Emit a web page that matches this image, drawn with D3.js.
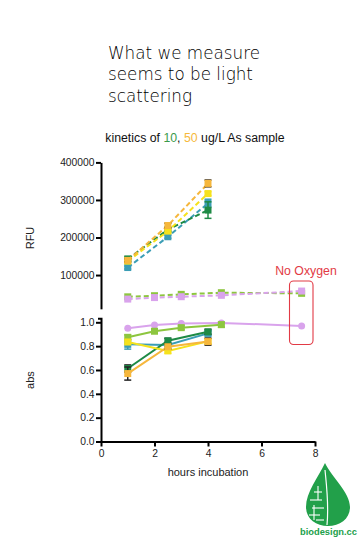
<!DOCTYPE html>
<html><head><meta charset="utf-8">
<script src="https://cdn.jsdelivr.net/npm/d3@7"></script>
<style>
html,body{margin:0;padding:0;background:#fff;}
svg{display:block;}
</style></head>
<body>
<svg id="c" width="359" height="538"></svg>
<script>
// ---------- data ----------
const xTicks = [0, 2, 4, 6, 8];
const rfuTicks = [100000, 200000, 300000, 400000];
const absTicks = [0.0, 0.2, 0.4, 0.6, 0.8, 1.0];

const xSample = [1, 2.5, 4];
const xControl = [1, 2, 3, 4.5, 7.5];
const xLime = [1, 2, 3, 4.5];

const rfuDarkGreen = [143000, 221000, 273000];
const rfuDarkGreenErr = [5000, 5000, 22000];
const rfuTeal = [120000, 202000, 291000];
const rfuTealErr = [4000, 4000, 11000];
const rfuYellow = [137000, 217000, 317000];
const rfuYellowErr = [4000, 4000, 5000];
const rfuOrange = [139000, 232000, 344000];
const rfuOrangeErr = [4000, 6000, 9000];
const rfuLime = [42000, 45000, 48600, 53000, 51300];
const rfuPink = [36000, 40000, 42300, 46000, 57400];

const absDarkGreen = [0.612, 0.845, 0.92];
const absDarkGreenErr = [0.03, 0.02, 0.02];
const absTeal = [0.815, 0.81, 0.907];
const absTealErr = [0.04, 0.01, 0.02];
const absYellow = [0.835, 0.76, 0.84];
const absYellowErr = [0.02, 0.02, 0.02];
const absOrange = [0.57, 0.795, 0.838];
const absOrangeErr = [0.055, 0.02, 0.03];
const absLime = [0.874, 0.925, 0.955, 0.98];
const absLimeErr = [0.02, 0.015, 0.015, 0.02];
const absPink = [0.95, 0.977, 0.99, 0.995, 0.97];

const colors = {
  darkGreen: "#1e8a45", teal: "#3a9db5", yellow: "#f5e21c",
  orange: "#f6b73c", lime: "#8dc63f", pink: "#d9a3ec", red: "#e23a45"
};

// ---------- setup ----------
const svg = d3.select("#c");
const FONT = "'Liberation Sans', Arial, sans-serif";

const x = d3.scaleLinear().domain([0, 8]).range([101, 315]);
const yTop = d3.scaleLinear().domain([0, 400000]).range([312.6, 162.4]);
const yBot = d3.scaleLinear().domain([0, 1]).range([441.5, 322.3]);

// ---------- titles ----------
const title = svg.append("text").attr("x", 108).attr("y", 58.5)
  .attr("font-family", "'DejaVu Sans', sans-serif").attr("font-size", 16.8)
  .attr("font-weight", 300).attr("fill", "#000");
["What we measure", "seems to be light", "scattering"].forEach((t, i) => {
  title.append("tspan").attr("x", 108).attr("dy", i === 0 ? 0 : 21.7).text(t);
});

const sub = svg.append("text").attr("x", 195).attr("y", 141.5)
  .attr("text-anchor", "middle").attr("font-family", FONT).attr("font-size", 12.3).attr("fill", "#111");
sub.append("tspan").text("kinetics of ");
sub.append("tspan").attr("fill", "#3a9a4a").text("10");
sub.append("tspan").text(", ");
sub.append("tspan").attr("fill", "#f6b93b").text("50");
sub.append("tspan").text(" ug/L As sample");

// ---------- axes ----------
function styleAxis(g) {
  g.selectAll("path.domain").attr("stroke", "#000").attr("stroke-width", 2);
  g.selectAll(".tick line").attr("stroke", "#000").attr("stroke-width", 2);
  g.selectAll(".tick text").attr("font-family", FONT).attr("font-size", 10.3).attr("fill", "#222");
}

// top y-axis (broken segment)
const yTopAxisScale = d3.scaleLinear().domain([10000, 400000]).range([yTop(10000), yTop(400000)]);
const gTop = svg.append("g").attr("transform", "translate(101,0)")
  .call(d3.axisLeft(yTopAxisScale).tickValues(rfuTicks).tickFormat(d3.format("d")).tickSize(5).tickSizeOuter(0).tickPadding(1.5));
styleAxis(gTop);

// bottom y-axis
const yBotAxisScale = d3.scaleLinear().domain([0, 1.035]).range([yBot(0), yBot(1.035)]);
const gBot = svg.append("g").attr("transform", "translate(101,0)")
  .call(d3.axisLeft(yBotAxisScale).tickValues(absTicks).tickFormat(d3.format(".1f")).tickSize(5).tickSizeOuter(3).tickPadding(1.5));
styleAxis(gBot);

// x axis
const gX = svg.append("g").attr("transform", "translate(0,441.5)")
  .call(d3.axisBottom(x).tickValues(xTicks).tickFormat(d3.format("d")).tickSize(5).tickSizeOuter(0).tickPadding(3));
styleAxis(gX);

// axis titles
svg.append("text").attr("transform", "translate(34,238) rotate(-90)").attr("text-anchor", "middle")
  .attr("font-family", FONT).attr("font-size", 11).attr("fill", "#222").text("RFU");
svg.append("text").attr("transform", "translate(34,380) rotate(-90)").attr("text-anchor", "middle")
  .attr("font-family", FONT).attr("font-size", 11).attr("fill", "#222").text("abs");
svg.append("text").attr("x", 208).attr("y", 476).attr("text-anchor", "middle")
  .attr("font-family", FONT).attr("font-size", 11).attr("fill", "#222").text("hours incubation");

// ---------- series drawing ----------
function zip(xs, ys, es) { return xs.map((xv, i) => ({ x: xv, y: ys[i], e: es ? es[i] : 0 })); }

function drawSeries(data, yS, color, opts) {
  const g = svg.append("g");
  const line = d3.line().x(d => x(d.x)).y(d => yS(d.y));
  g.append("path").datum(data).attr("d", line).attr("fill", "none")
    .attr("stroke", color).attr("stroke-width", 2)
    .attr("stroke-dasharray", opts.dashed ? "5,3" : null);
  const ec = opts.errColor || color;
  data.filter(d => d.e > 0).forEach(d => {
    const cx = x(d.x), y1 = yS(d.y - d.e), y2 = yS(d.y + d.e);
    g.append("line").attr("x1", cx).attr("x2", cx).attr("y1", y1).attr("y2", y2).attr("stroke", ec).attr("stroke-width", 1.5);
    [y1, y2].forEach(yy => g.append("line").attr("x1", cx - 3.5).attr("x2", cx + 3.5).attr("y1", yy).attr("y2", yy)
      .attr("stroke", ec).attr("stroke-width", 1.5));
  });
  if (opts.shape === "circle") {
    g.selectAll("circle").data(data).join("circle").attr("cx", d => x(d.x)).attr("cy", d => yS(d.y))
      .attr("r", 3.5).attr("fill", color);
  } else {
    g.selectAll("rect").data(data).join("rect").attr("x", d => x(d.x) - 3.5).attr("y", d => yS(d.y) - 3.5)
      .attr("width", 7).attr("height", 7).attr("fill", color);
  }
}

// top panel (RFU) dashed
drawSeries(zip(xControl, rfuLime), yTop, colors.lime, { dashed: true });
drawSeries(zip(xControl, rfuPink), yTop, colors.pink, { dashed: true });
drawSeries(zip(xSample, rfuTeal, rfuTealErr), yTop, colors.teal, { dashed: true });
drawSeries(zip(xSample, rfuDarkGreen, rfuDarkGreenErr), yTop, colors.darkGreen, { dashed: true });
drawSeries(zip(xSample, rfuYellow, rfuYellowErr), yTop, colors.yellow, { dashed: true });
drawSeries(zip(xSample, rfuOrange, rfuOrangeErr), yTop, colors.orange, { dashed: true, errColor: "#3a2a10" });

// bottom panel (abs) solid
drawSeries(zip(xControl, absPink), yBot, colors.pink, { shape: "circle" });
drawSeries(zip(xLime, absLime, absLimeErr), yBot, colors.lime, {});
drawSeries(zip(xSample, absTeal, absTealErr), yBot, colors.teal, {});
drawSeries(zip(xSample, absDarkGreen, absDarkGreenErr), yBot, colors.darkGreen, { errColor: "#111" });
drawSeries(zip(xSample, absYellow, absYellowErr), yBot, colors.yellow, {});
drawSeries(zip(xSample, absOrange, absOrangeErr), yBot, colors.orange, { errColor: "#222" });

// ---------- annotation ----------
svg.append("text").attr("x", 306).attr("y", 275).attr("text-anchor", "middle")
  .attr("font-family", FONT).attr("font-size", 12.3).attr("fill", colors.red).text("No Oxygen");
svg.append("rect").attr("x", 289.5).attr("y", 281).attr("width", 23.5).attr("height", 63.5)
  .attr("rx", 4).attr("fill", "none").attr("stroke", colors.red).attr("stroke-width", 1.1);

// ---------- logo ----------
const logo = svg.append("g");
logo.append("path")
  .attr("d", "M325,463 C318,478 306,492 306,507 C306,519 316,526 328,526 C340,526 350,519 350,507 C350,492 332,478 325,463 Z")
  .attr("fill", "#22a04a");
logo.append("path").attr("d", "M325,470 C327,490 329,505 327,525").attr("stroke", "#fff").attr("stroke-width", 1.2).attr("fill", "none");
[[310, 500, 322, 500], [312, 508, 324, 508], [309, 515, 320, 515], [314, 492, 322, 492], [316, 520, 324, 520], [318, 486, 318, 500], [314, 505, 314, 520]]
  .forEach(l => logo.append("line").attr("x1", l[0]).attr("y1", l[1]).attr("x2", l[2]).attr("y2", l[3])
    .attr("stroke", "#fff").attr("stroke-width", 1.1));
logo.append("text").attr("x", 300).attr("y", 534.5).attr("textLength", 57).attr("lengthAdjust", "spacingAndGlyphs")
  .attr("font-family", FONT).attr("font-weight", "bold").attr("font-size", 9.5).attr("fill", "#22a04a").text("biodesign.cc");
</script>
</body></html>
